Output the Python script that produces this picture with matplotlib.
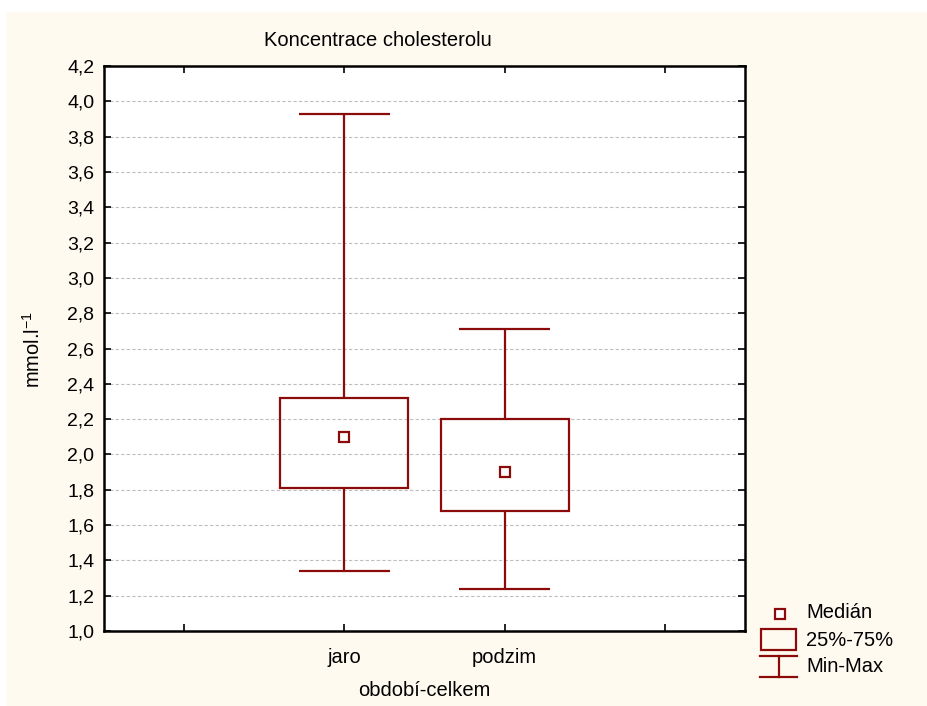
import matplotlib.pyplot as plt
from matplotlib.patches import Rectangle
from matplotlib.lines import Line2D
from matplotlib.ticker import FuncFormatter

plt.rcParams['font.family'] = ['Liberation Sans', 'DejaVu Sans']
plt.rcParams['mathtext.fontset'] = 'custom'
plt.rcParams['mathtext.rm'] = 'Liberation Sans'

# cholesterol concentration by season
groups = ['jaro', 'podzim']
positions = [1, 2]
mins = [1.34, 1.24]
q1 = [1.81, 1.68]
medians = [2.10, 1.90]
q3 = [2.32, 2.20]
maxs = [3.93, 2.71]

red = '#8B0A0A'
cream = '#FFFAF0'
fs = 14.5

fig = plt.figure(figsize=(9.28, 7.06), dpi=100)
fig.patch.set_facecolor('white')
fig.patches.append(Rectangle((6 / 928, 0), 1, 1 - 12 / 706, transform=fig.transFigure,
                             facecolor=cream, edgecolor='none', zorder=-10))

ax = fig.add_axes([104 / 928, 75 / 706, 641 / 928, 565 / 706])
ax.set_facecolor('white')

box_w = 0.8
cap_w = 0.57
for x, lo, a, m, b, hi in zip(positions, mins, q1, medians, q3, maxs):
    ax.add_patch(Rectangle((x - box_w / 2, a), box_w, b - a, facecolor='none',
                           edgecolor=red, linewidth=1.6, zorder=3))
    ax.vlines(x, b, hi, color=red, linewidth=1.6, zorder=3)
    ax.vlines(x, lo, a, color=red, linewidth=1.6, zorder=3)
    ax.hlines([lo, hi], x - cap_w / 2, x + cap_w / 2, color=red, linewidth=1.6, zorder=3)
    ax.plot(x, m, marker='s', markersize=7, markerfacecolor='white',
            markeredgecolor=red, markeredgewidth=1.6, zorder=4)

ax.set_xlim(-0.5, 3.5)
ax.set_ylim(1.0, 4.2)
ax.set_xticks([0, 1, 2, 3])
ax.set_xticklabels([''] + groups + [''])
ax.set_yticks([1.0 + 0.2 * i for i in range(17)])
ax.yaxis.set_major_formatter(FuncFormatter(lambda v, p: f'{v:.1f}'.replace('.', ',')))

ax.tick_params(direction='in', length=5, width=1.2, top=True, right=True,
               labelsize=fs - 0.5, colors='black')
ax.tick_params(axis='x', pad=12, labelsize=fs)
ax.tick_params(axis='y', pad=7)
for s in ax.spines.values():
    s.set_linewidth(1.8)
    s.set_color('black')

ax.grid(axis='y', color='#BEBEBE', linestyle=(0, (3, 2)), linewidth=0.8, zorder=0)
ax.set_axisbelow(True)

fig.text(378 / 928, 1 - 40 / 706, 'Koncentrace cholesterolu', ha='center', va='center', fontsize=fs)
fig.text(424 / 928, 1 - 690 / 706, 'období-celkem', ha='center', va='center', fontsize=fs)
fig.text(33 / 928, 1 - 350 / 706, 'mmol.l$^{-1}$', ha='center', va='center',
         rotation=90, fontsize=fs)

# legend drawn in figure pixel coordinates
def fx(px):
    return px / 928

def fy(py):
    return 1 - py / 706

fig.add_artist(Line2D([fx(780)], [fy(614)], marker='s', markersize=7, markerfacecolor='white',
                      markeredgecolor=red, markeredgewidth=1.6))
fig.add_artist(Rectangle((fx(761), fy(650)), fx(796) - fx(761), fy(629) - fy(650),
                         transform=fig.transFigure, facecolor='none', edgecolor=red, linewidth=1.6))
fig.add_artist(Line2D([fx(760), fx(797)], [fy(656), fy(656)], color=red, linewidth=1.6))
fig.add_artist(Line2D([fx(760), fx(797)], [fy(677), fy(677)], color=red, linewidth=1.6))
fig.add_artist(Line2D([fx(779), fx(779)], [fy(656), fy(677)], color=red, linewidth=1.6))
for label, py in [('Medián', 613), ('25%-75%', 640), ('Min-Max', 667)]:
    fig.text(fx(806), fy(py), label, ha='left', va='center', fontsize=fs)

fig.savefig('out.png', dpi=100, facecolor=fig.get_facecolor())
